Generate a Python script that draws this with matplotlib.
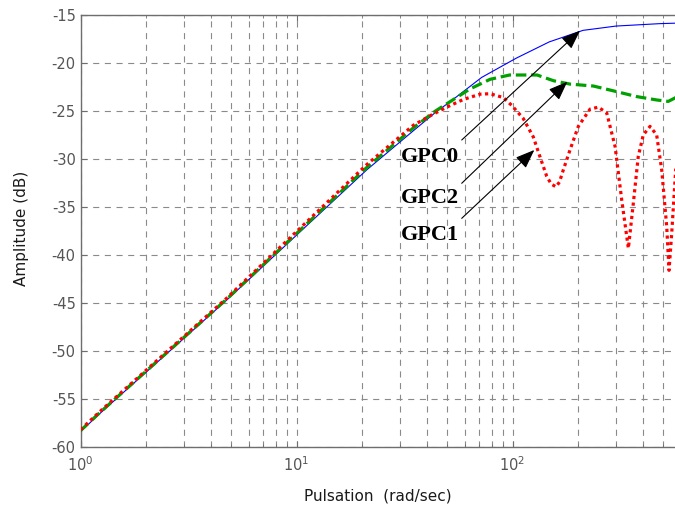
import matplotlib
matplotlib.use("Agg")
import matplotlib.pyplot as plt
import numpy as np

# ---- data ----
w_gpc0 = [1, 1.231, 4.75, 21.1, 35, 44.8, 51, 72, 104, 148, 212, 302, 481, 570]
db_gpc0 = [-58.4, -56.5, -44.7, -31.15, -27, -25, -24.1, -21.5, -19.5, -17.8, -16.6, -16.15, -15.9, -15.85]

w_gpc2 = [1, 1.231, 4.75, 21.1, 35, 44, 50, 63.6, 78.7, 97, 130, 155, 185, 237, 293, 376, 465, 526, 570]
db_gpc2 = [-58.3, -56.4, -44.6, -30.9, -26.7, -25, -24.2, -22.7, -21.7, -21.25, -21.25, -21.85, -22.2,
           -22.4, -22.9, -23.5, -23.85, -24.0, -23.6]

w_gpc1 = [1, 1.231, 4.75, 21.1, 34.7, 41.5, 49.6, 59.2, 70.7, 78.7, 90.7, 99, 112, 124.8, 134,
          144, 151, 158.9, 165, 171.8, 184.6, 201.7, 228.6, 249.7, 273, 298.5, 320.5, 343.9, 362.6, 382, 403,
          433.3, 465, 490.8, 517.6, 530.5, 546, 570]
db_gpc1 = [-58.2, -56.3, -44.5, -30.6, -26.5, -25.5, -24.6, -23.8, -23.25, -23.2, -23.6, -24.4,
           -25.76, -27.7, -29.76, -31.8, -32.6, -32.9, -32.4, -31.15, -29.06, -26.6, -24.8, -24.6, -25.2, -28.7,
           -34.3, -39.3, -34.6, -29.76, -27.5, -26.6, -27.5, -31.15, -37.05, -41.6, -37.7, -31.0]

labels = ["GPC0", "GPC2", "GPC1"]
text_xy = [(30.4, -30.28), (30.4, -34.6), (30.4, -38.44)]
arrow_tail = [(58.2, -28.02), (58.2, -32.53), (58.2, -36.18)]
arrow_head = [(205.4, -16.64), (179.4, -21.95), (126.2, -29.06)]

yticks = list(range(-60, -14, 5))

# ---- figure ----
plt.rcParams['font.family'] = ['DejaVu Sans']
plt.rcParams['mathtext.default'] = 'regular'
plt.rcParams['axes.unicode_minus'] = False

fig = plt.figure(figsize=(6.75, 5.11), dpi=100)
ax = fig.add_axes([80.5 / 675, 64 / 511, (675 - 80.5) / 675, 432 / 511])

ax.plot(w_gpc0, db_gpc0, color='#0000ff', lw=0.8, zorder=3)
ax.plot(w_gpc2, db_gpc2, color='#00a000', lw=2.3, linestyle=(0, (3.3, 1.5)), zorder=4)
ax.plot(w_gpc1, db_gpc1, color='#ff0000', lw=2.3, linestyle=(0, (1, 1.1)), zorder=5)

ax.set_xscale('log')
ax.set_xlim(1, 10 ** ((675 - 80.5) / 216))
ax.set_ylim(-60, -15)
ax.set_yticks(yticks)

grid_kw = dict(color='#8a8a8a', lw=0.8, linestyle=(0, (5.5, 5)))
ax.grid(True, which='major', axis='both', **grid_kw)
ax.grid(True, which='minor', axis='x', **grid_kw)

for s in ['left', 'bottom', 'top']:
    ax.spines[s].set_color('#6e6e6e')
    ax.spines[s].set_linewidth(1.0)
ax.spines['right'].set_visible(False)

ax.tick_params(which='both', direction='in', colors='#6e6e6e', labelcolor='#555555', labelsize=10.5,
               top=True)
ax.tick_params(which='major', length=4)
ax.tick_params(which='minor', length=2.5)
ax.tick_params(axis='x', pad=6)

for lab, txy, tail, head in zip(labels, text_xy, arrow_tail, arrow_head):
    ax.text(txy[0], txy[1], lab, family='Liberation Serif', fontweight='bold', fontsize=16,
            va='baseline', ha='left', zorder=6)
    ax.annotate('', xy=head, xytext=tail,
                arrowprops=dict(arrowstyle='-|>,head_length=0.65,head_width=0.25', color='k', lw=0.8,
                                mutation_scale=18, shrinkA=0, shrinkB=0), zorder=6)

ax.set_xlabel('Pulsation  (rad/sec)', fontsize=11, color='#1a1a1a')
ax.set_ylabel('Amplitude (dB)', fontsize=11, color='#1a1a1a')
ax.xaxis.set_label_coords(0.5, -0.097)
ax.yaxis.set_label_coords(-0.0988, 0.505)
ax.yaxis.label.set_verticalalignment('center')

fig.savefig('out.png', dpi=100)
